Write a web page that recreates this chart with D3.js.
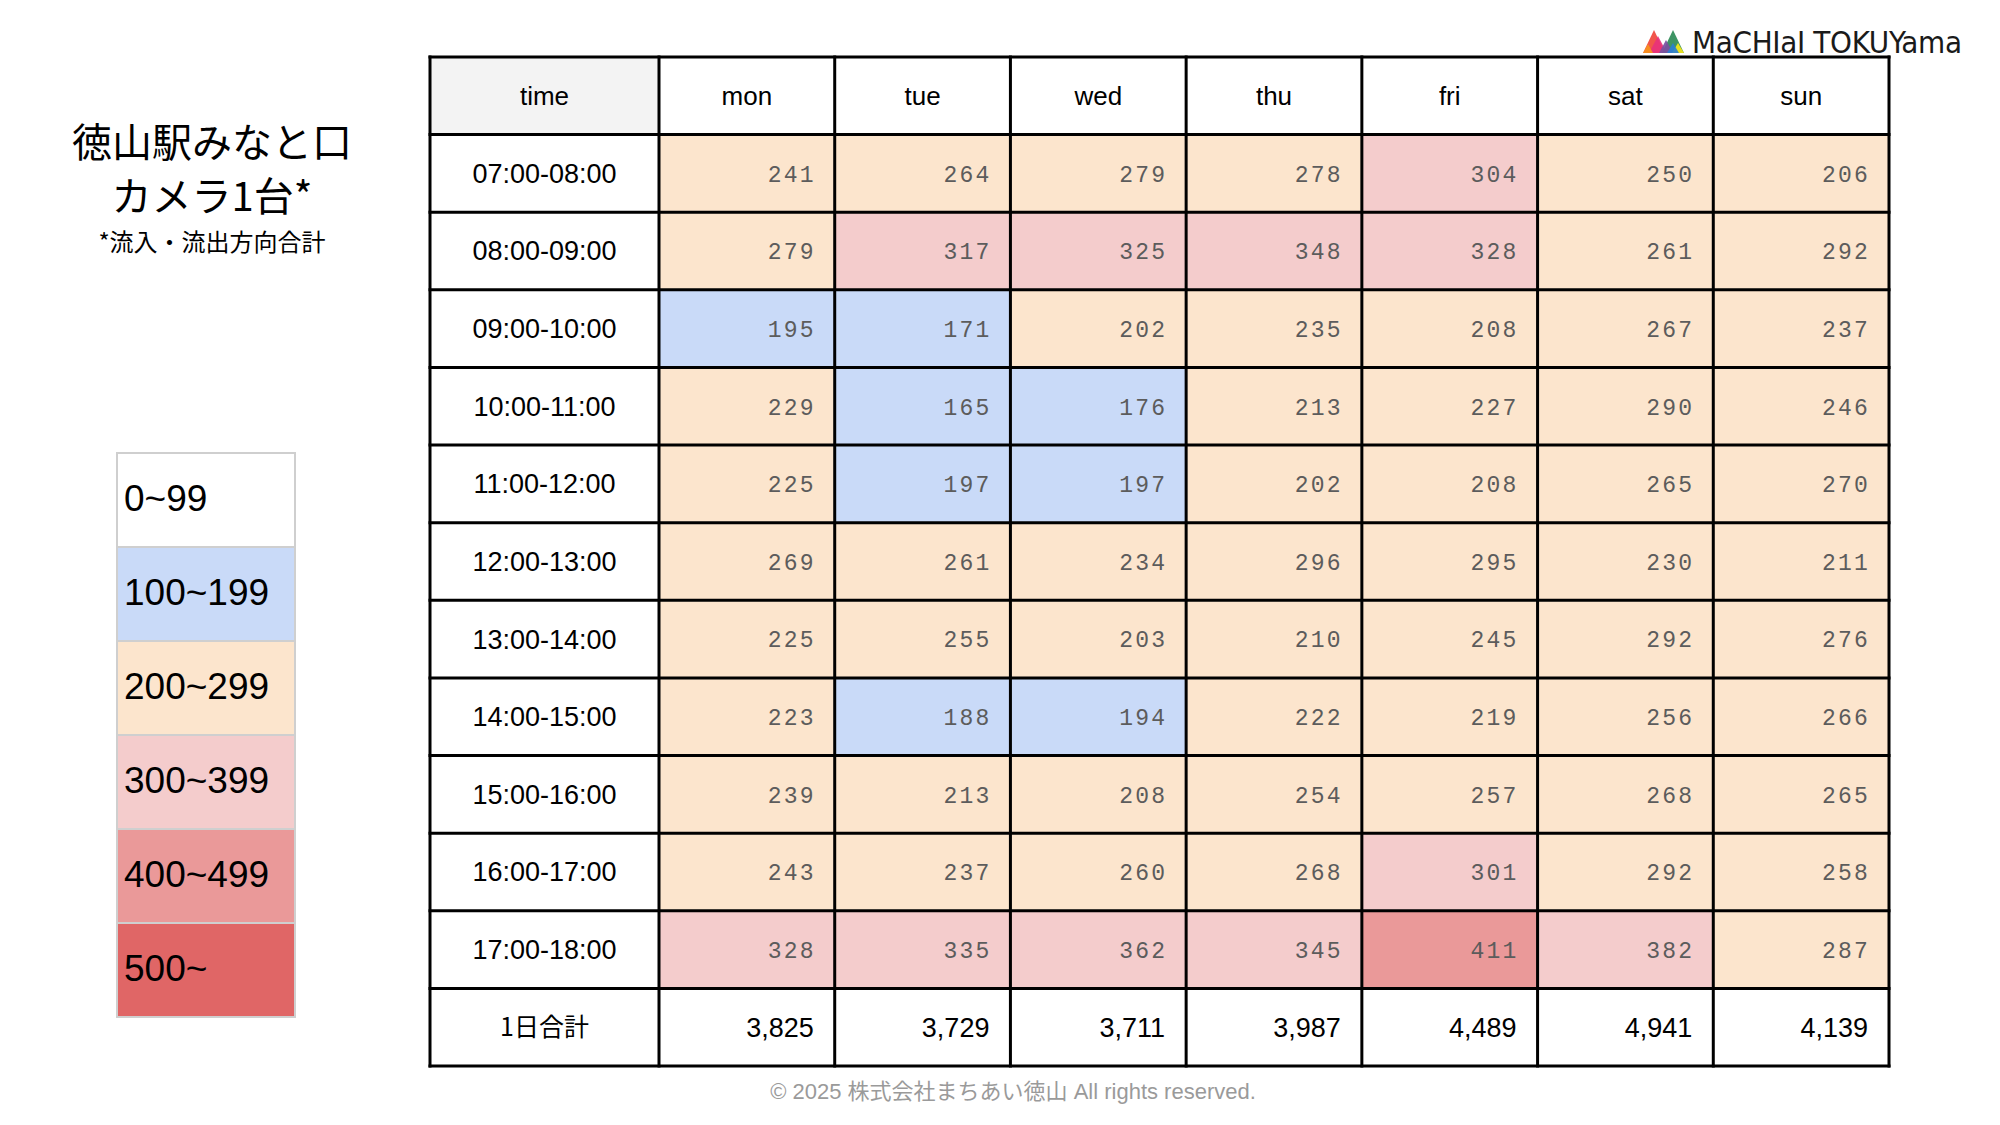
<!DOCTYPE html>
<html>
<head>
<meta charset="utf-8">
<script src="https://cdn.jsdelivr.net/npm/d3@7"></script>
<style>
  html, body { margin: 0; padding: 0; background: #ffffff; }
  svg { display: block; }
</style>
</head>
<body>
<svg id="chart" width="2000" height="1125"></svg>
<script>
// ---- data ----
const days = ["mon", "tue", "wed", "thu", "fri", "sat", "sun"];
const times = ["07:00-08:00", "08:00-09:00", "09:00-10:00", "10:00-11:00", "11:00-12:00",
  "12:00-13:00", "13:00-14:00", "14:00-15:00", "15:00-16:00", "16:00-17:00", "17:00-18:00"];
const counts = [
  [241, 264, 279, 278, 304, 250, 206],
  [279, 317, 325, 348, 328, 261, 292],
  [195, 171, 202, 235, 208, 267, 237],
  [229, 165, 176, 213, 227, 290, 246],
  [225, 197, 197, 202, 208, 265, 270],
  [269, 261, 234, 296, 295, 230, 211],
  [225, 255, 203, 210, 245, 292, 276],
  [223, 188, 194, 222, 219, 256, 266],
  [239, 213, 208, 254, 257, 268, 265],
  [243, 237, 260, 268, 301, 292, 258],
  [328, 335, 362, 345, 411, 382, 287]
];
const dailyTotals = [3825, 3729, 3711, 3987, 4489, 4941, 4139];
const legendLabels = ["0~99", "100~199", "200~299", "300~399", "400~499", "500~"];
const thresholds = [100, 200, 300, 400, 500];
const bandColors = ["#ffffff", "#c9daf8", "#fce5cd", "#f4cccc", "#ea9999", "#e06666"];
const titleLines = ["徳山駅みなと口", "カメラ1台*"];
const subtitle = "*流入・流出方向合計";
const timeHeader = "time";
const totalLabel = "1日合計";
const footerText = "© 2025 株式会社まちあい徳山  All rights reserved.";
const logoText = "MaCHIaI TOKUYama";

// ---- layout ----
const svg = d3.select("#chart");
const tableLeft = 430, timeColRight = 659, tableRight = 1889;
const tableTop = 57, tableBottom = 1066;

const color = d3.scaleThreshold().domain(thresholds).range(bandColors);
const x = d3.scaleBand().domain(days).range([timeColRight, tableRight]).padding(0);
const rowKeys = ["header", ...times, "total"];
const y = d3.scaleBand().domain(rowKeys).range([tableTop, tableBottom]).padding(0);

const sans = "'Liberation Sans', Arial, sans-serif";
const mono = "'Liberation Mono', 'Courier New', monospace";
const cjk = "'Noto Sans CJK JP', 'Noto Sans', sans-serif";

// ---- cells ----
const cells = [];
times.forEach((t, i) => days.forEach((d, j) => cells.push({ t, d, v: counts[i][j] })));

const g = svg.append("g");

// header time cell background
g.append("rect")
  .attr("x", tableLeft).attr("y", y("header"))
  .attr("width", timeColRight - tableLeft).attr("height", y.bandwidth())
  .attr("fill", "#f3f3f3");

g.selectAll("rect.cell").data(cells).join("rect")
  .attr("class", "cell")
  .attr("x", d => x(d.d)).attr("y", d => y(d.t))
  .attr("width", x.bandwidth()).attr("height", y.bandwidth())
  .attr("fill", d => color(d.v));

// values
g.selectAll("text.val").data(cells).join("text")
  .attr("class", "val")
  .attr("x", d => x(d.d) + x.bandwidth() - 19)
  .attr("y", d => y(d.t) + y.bandwidth() / 2)
  .attr("dy", "0.36em")
  .attr("text-anchor", "end")
  .attr("font-family", mono)
  .attr("font-size", 23)
  .attr("letter-spacing", 2.2)
  .attr("fill", "#5c5c5c")
  .text(d => d.v);

// header labels
g.append("text")
  .attr("x", (tableLeft + timeColRight) / 2).attr("y", y("header") + y.bandwidth() / 2)
  .attr("dy", "0.35em").attr("text-anchor", "middle")
  .attr("font-family", sans).attr("font-size", 26).attr("fill", "#000")
  .text(timeHeader);
g.selectAll("text.day").data(days).join("text")
  .attr("class", "day")
  .attr("x", d => x(d) + x.bandwidth() / 2).attr("y", y("header") + y.bandwidth() / 2)
  .attr("dy", "0.35em").attr("text-anchor", "middle")
  .attr("font-family", sans).attr("font-size", 26).attr("fill", "#000")
  .text(d => d);

// time labels
g.selectAll("text.time").data(times).join("text")
  .attr("class", "time")
  .attr("x", (tableLeft + timeColRight) / 2).attr("y", d => y(d) + y.bandwidth() / 2)
  .attr("dy", "0.35em").attr("text-anchor", "middle")
  .attr("font-family", sans).attr("font-size", 27).attr("fill", "#000")
  .text(d => d);

// totals row
g.append("text")
  .attr("x", (tableLeft + timeColRight) / 2).attr("y", y("total") + y.bandwidth() / 2)
  .attr("dy", "0.35em").attr("text-anchor", "middle")
  .attr("font-family", cjk).attr("font-size", 25).attr("fill", "#000")
  .text(totalLabel);
const fmt = d3.format(",");
g.selectAll("text.tot").data(days).join("text")
  .attr("class", "tot")
  .attr("x", d => x(d) + x.bandwidth() - 21).attr("y", y("total") + y.bandwidth() / 2)
  .attr("dy", "0.35em").attr("text-anchor", "end")
  .attr("font-family", sans).attr("font-size", 27).attr("fill", "#000")
  .text((d, i) => fmt(dailyTotals[i]));

// grid lines
const vLines = [tableLeft, timeColRight, ...days.map(d => x(d) + x.bandwidth())];
const hLines = [tableTop, ...rowKeys.map(r => y(r) + y.bandwidth())];
g.selectAll("line.v").data(vLines).join("line")
  .attr("x1", d => d).attr("x2", d => d)
  .attr("y1", tableTop - 1.5).attr("y2", tableBottom + 1.5)
  .attr("stroke", "#000").attr("stroke-width", 3);
g.selectAll("line.h").data(hLines).join("line")
  .attr("y1", d => d).attr("y2", d => d)
  .attr("x1", tableLeft - 1.5).attr("x2", tableRight + 1.5)
  .attr("stroke", "#000").attr("stroke-width", 3);

// ---- title ----
const tx = 212;
svg.append("text").attr("x", tx).attr("y", 157).attr("text-anchor", "middle")
  .attr("font-family", cjk).attr("font-size", 40).attr("font-weight", 400).attr("fill", "#000")
  .text(titleLines[0]);
svg.append("text").attr("x", tx).attr("y", 211).attr("text-anchor", "middle")
  .attr("font-family", cjk).attr("font-size", 40).attr("font-weight", 400).attr("fill", "#000")
  .text(titleLines[1]);
svg.append("text").attr("x", tx).attr("y", 251).attr("text-anchor", "middle")
  .attr("font-family", cjk).attr("font-size", 24).attr("fill", "#000")
  .text(subtitle);

// ---- legend ----
const ly = d3.scaleBand().domain(legendLabels).range([453, 1017]).padding(0);
const lg = svg.append("g");
lg.selectAll("rect").data(legendLabels).join("rect")
  .attr("x", 117).attr("y", d => ly(d))
  .attr("width", 178).attr("height", ly.bandwidth())
  .attr("fill", (d, i) => bandColors[i])
  .attr("stroke", "#cfcfcf").attr("stroke-width", 2);
lg.selectAll("text").data(legendLabels).join("text")
  .attr("x", 124).attr("y", d => ly(d) + ly.bandwidth() / 2)
  .attr("dy", "0.31em")
  .attr("font-family", sans).attr("font-size", 37).attr("fill", "#000")
  .text(d => d);

// ---- logo ----
const logo = svg.append("g");
const tri = [
  { p: "1643,53 1654,30 1665,53", c: "#f0463c" },
  { p: "1649,53 1658,36 1667,53", c: "#e8327a" },
  { p: "1643,53 1648,44 1653,53", c: "#f7941d" },
  { p: "1662,53 1673,30 1684,53", c: "#2e8b57" },
  { p: "1659,53 1666,40 1673,53", c: "#7b4fa0" },
  { p: "1672,53 1678,43 1684,53", c: "#f6e61a" },
  { p: "1667,53 1673,43 1679,53", c: "#2b7fd0" }
];
logo.selectAll("polygon").data(tri).join("polygon")
  .attr("points", d => d.p).attr("fill", d => d.c).attr("opacity", 0.92);
logo.append("text")
  .attr("x", 1692).attr("y", 53)
  .attr("font-family", "'DejaVu Sans Condensed', 'DejaVu Sans', sans-serif")
  .attr("font-size", 31).attr("fill", "#1a1a1a")
  .attr("textLength", 270).attr("lengthAdjust", "spacing")
  .text(logoText);

// ---- footer ----
svg.append("text")
  .attr("x", 1013).attr("y", 1099).attr("text-anchor", "middle")
  .attr("font-family", "'Liberation Sans', 'Noto Sans CJK JP', sans-serif")
  .attr("font-size", 22).attr("fill", "#9a9a9a")
  .text(footerText);
</script>
</body>
</html>
